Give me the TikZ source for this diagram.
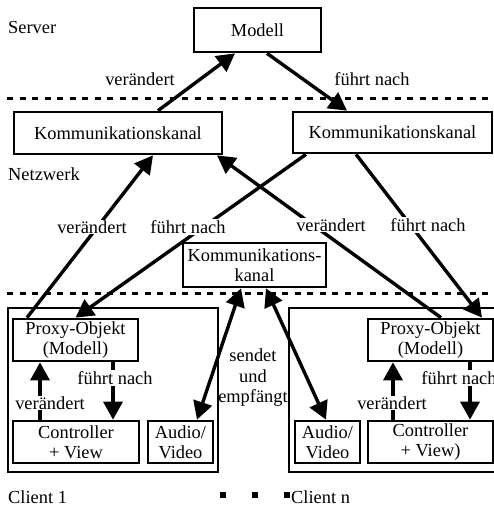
\documentclass[tikz,border=0pt]{standalone}
\usepackage{fontspec}
\setmainfont{Liberation Serif}
\usetikzlibrary{arrows.meta}
\begin{document}
\begin{tikzpicture}[x=1pt,y=-1pt,
  font=\fontsize{18.4}{20.5}\selectfont,
  box/.style={draw, line width=2.7pt, inner sep=0pt, align=center, fill=white},
  tip/.tip={Triangle[length=18pt 0 0,width=19pt 0]},
  arr/.style={line width=3.4pt, -tip},
  darr/.style={line width=3.4pt, tip-tip},
  lbl/.style={fill=white, inner sep=1pt},
  txt/.style={inner sep=0pt, anchor=west},
  sep/.style={line width=3pt, dash pattern=on 6pt off 6.5pt}]
\useasboundingbox (0,0) rectangle (494,506);
\clip (0,0) rectangle (494,506);

% layer separators
\draw[sep] (7,98) -- (494,98);
\draw[sep] (7,293) -- (494,293);

% layer names
\node[txt] (server) at (8,27) {Server};
\node[txt] (netz) at (8,174) {Netzwerk};
\node[txt] (client1) at (8,497) {Client 1};
\node[txt] (clientn) at (291,497) {Client n};
\foreach \x in {223,255,287}
  \fill (\x-2.6,492.4) rectangle (\x+2.6,497.6);

% server and network
\node[box, minimum width=127, minimum height=44] (modell) at (257.5,30) {Modell};
\node[box, minimum width=208, minimum height=42] (kl) at (118,133) {Kommunikationskanal};
\node[box, minimum width=199, minimum height=41] (kr) at (392.5,132.5) {Kommunikationskanal};
\node[box, minimum width=143, minimum height=44] (km) at (254.5,265) {Kommunikations-\\kanal};

% client frames
\node[box, minimum width=210, minimum height=164] (c1) at (113,390) {};
\node[box, minimum width=230, minimum height=164] (cn) at (404,390) {};

% client 1
\node[box, minimum width=125, minimum height=42] (pl) at (75.5,340) {Proxy-Objekt\\(Modell)};
\node[box, minimum width=126, minimum height=42] (cl) at (76,442) {Controller\\+ View};
\node[box, minimum width=65, minimum height=42] (al) at (180.5,442) {Audio/\\Video};

% client n
\node[box, minimum width=125, minimum height=42] (pr) at (430.5,340) {Proxy-Objekt\\(Modell)};
\node[box, minimum width=125, minimum height=42] (cr) at (430.5,442) {Controller\\+ View)};
\node[box, minimum width=65, minimum height=42] (ar) at (327.5,442) {Audio/\\Video};

% server <-> network
\draw[arr] ([xshift=40pt]kl.north) -- ([xshift=-22.5pt]modell.south);
\draw[arr] ([xshift=9.5pt]modell.south) -- ([xshift=-45.5pt]kr.north);
\node[lbl] (v0) at (140,79) {verändert};
\node[lbl] (f0) at (372,79) {führt nach};

% network <-> clients
\draw[arr] ([xshift=-48.5pt]pl.north) -- ([xshift=35pt]kl.south);
\draw[arr] ([xshift=10.5pt]pr.north) -- ([xshift=99pt]kl.south);
\draw[arr] ([xshift=-86.5pt]kr.south) -- (pl.north);
\draw[arr] ([xshift=-36.5pt]kr.south) -- ([xshift=51.5pt]pr.north);
\node[lbl] (v1) at (92,227) {verändert};
\node[lbl] (v2) at (331,225) {verändert};
\node[lbl] (f1) at (188,227) {führt nach};
\node[lbl] (f2) at (428,225) {führt nach};

% inside client 1
\draw[arr] ([xshift=-36pt]cl.north) -- ([xshift=-35.5pt]pl.south);
\draw[arr] ([xshift=37.5pt]pl.south) -- ([xshift=37pt]cl.north);
\node[lbl] (v3) at (50,403) {verändert};
\node[lbl] (f3) at (115,378) {führt nach};

% inside client n
\draw[arr] ([xshift=-37.5pt]cr.north) -- ([xshift=-37.5pt]pr.south);
\draw[arr] ([xshift=39.5pt]pr.south) -- ([xshift=39.5pt]cr.north);
\node[lbl] (v4) at (392,403) {verändert};
\node[lbl] (f4) at (459,378) {führt nach};

% audio/video channel
\draw[darr] ([xshift=-13.5pt]km.south) -- ([xshift=16.5pt]al.north);
\draw[darr] ([xshift=11.5pt]km.south) -- ([xshift=-1.5pt]ar.north);
\node[align=center, inner sep=0pt] (se) at (253,378) {sendet\\und\\empfängt};
\end{tikzpicture}
\end{document}
